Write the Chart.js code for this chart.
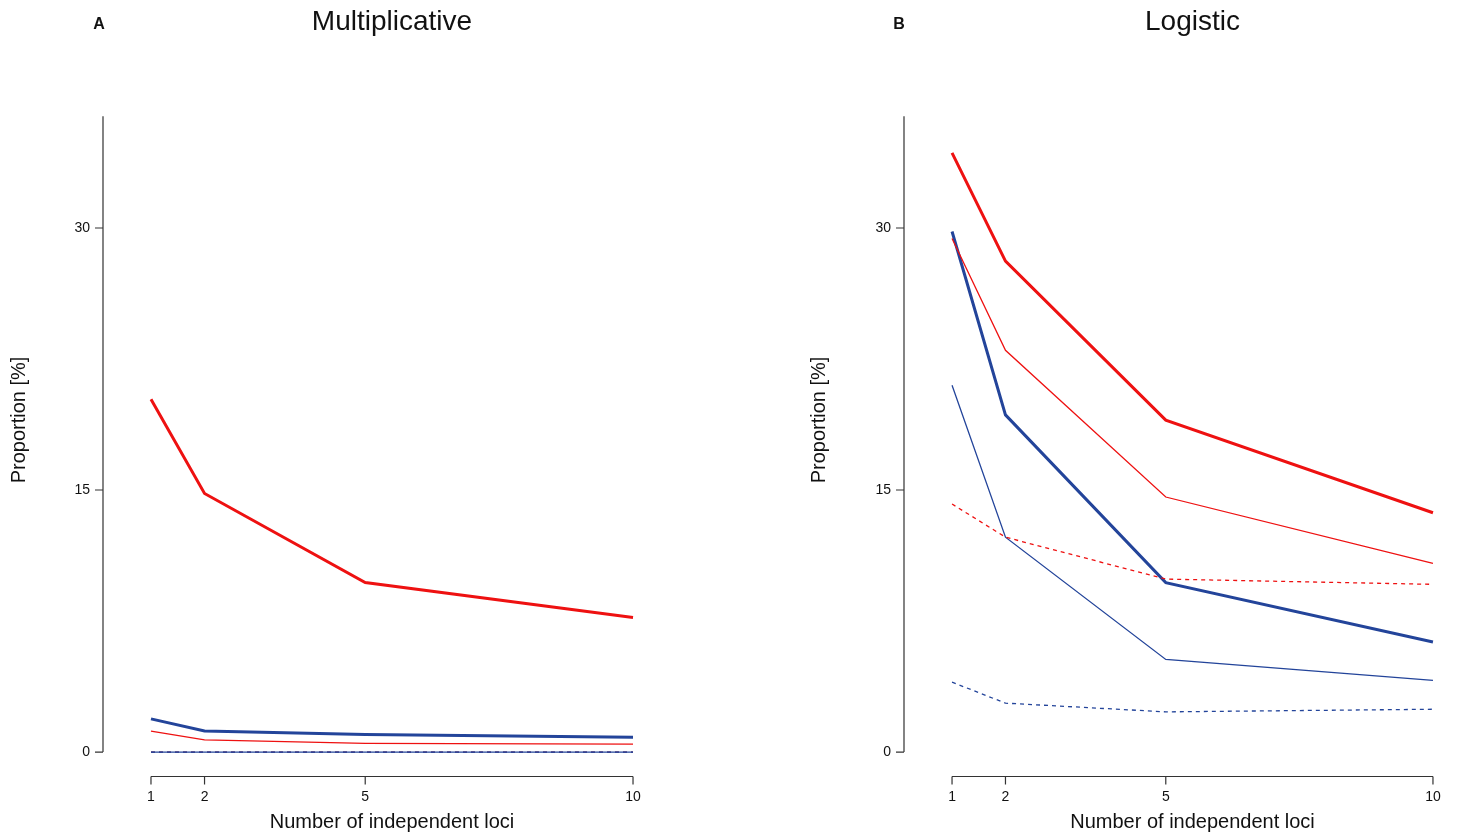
<!DOCTYPE html>
<html>
<head>
<meta charset="utf-8">
<script src="https://cdn.jsdelivr.net/npm/chart.js@4/dist/chart.umd.min.js"></script>
<style>
  body { margin:0; background:#fff; }
  .panel { position:absolute; top:0; width:729px; height:832px; }
</style>
</head>
<body>
<div class="panel" style="left:0"><canvas id="chartA" width="729" height="832"></canvas></div>
<div class="panel" style="left:729px"><canvas id="chartB" width="729" height="832"></canvas></div>
<script>
const loci = [1, 2, 5, 10];
const yTicks = [0, 15, 30];

// Multiplicative panel
const multRedThick  = [20.2, 14.8, 9.7, 7.7];
const multRedThin   = [1.2, 0.7, 0.5, 0.45];
const multRedDash   = [0, 0, 0, 0];
const multBlueThick = [1.9, 1.2, 1.0, 0.85];
const multBlueThin  = [0, 0, 0, 0];
const multBlueDash  = [0, 0, 0, 0];

// Logistic panel
const logRedThick  = [34.3, 28.1, 19.0, 13.7];
const logRedThin   = [29.4, 23.0, 14.6, 10.8];
const logRedDash   = [14.2, 12.3, 9.9, 9.6];
const logBlueThick = [29.8, 19.3, 9.7, 6.3];
const logBlueThin  = [21.0, 12.3, 5.3, 4.1];
const logBlueDash  = [4.0, 2.8, 2.3, 2.45];

const RED = '#ee1111', BLUE = '#23449a';
const FONT = '"Liberation Sans", Arial, Helvetica, sans-serif';

function series(vals, color, width, dash){
  return { data: vals.map((v,i)=>({x:loci[i], y:v})), borderColor: color, borderWidth: width,
    borderDash: dash ? [4,4] : [], pointRadius: 0, fill: false, tension: 0 };
}

// draws R-style offset axes and labels using the chart's own scales
const rAxes = {
  id: 'rAxes',
  afterDatasetsDraw(chart, args, o){
    const {ctx, scales:{x, y}} = chart;
    ctx.save();
    ctx.strokeStyle = '#333'; ctx.fillStyle = '#111'; ctx.lineWidth = 1.2;
    // y axis
    const ax = o.yAxisX;
    ctx.beginPath();
    ctx.moveTo(ax, y.getPixelForValue(0)); ctx.lineTo(ax, y.top);
    yTicks.forEach(t=>{ const py = y.getPixelForValue(t); ctx.moveTo(ax, py); ctx.lineTo(ax-8, py); });
    ctx.stroke();
    ctx.font = '14px ' + FONT; ctx.textAlign = 'right'; ctx.textBaseline = 'middle';
    yTicks.forEach(t=> ctx.fillText(String(t), ax-13, y.getPixelForValue(t)));
    // x axis
    const ay = y.bottom;
    ctx.beginPath();
    ctx.moveTo(x.getPixelForValue(loci[0]), ay); ctx.lineTo(x.getPixelForValue(loci[loci.length-1]), ay);
    loci.forEach(t=>{ const px = x.getPixelForValue(t); ctx.moveTo(px, ay); ctx.lineTo(px, ay+8); });
    ctx.stroke();
    ctx.textAlign = 'center';
    loci.forEach(t=> ctx.fillText(String(t), x.getPixelForValue(t), ay+21));
    // titles
    const cx = (x.getPixelForValue(1) + x.getPixelForValue(10)) / 2;
    ctx.font = '20px ' + FONT;
    ctx.fillText('Number of independent loci', cx, 822);
    ctx.save();
    ctx.translate(o.yTitleX, 420); ctx.rotate(-Math.PI/2);
    ctx.fillText('Proportion [%]', 0, 0);
    ctx.restore();
    ctx.font = '28px ' + FONT;
    ctx.fillText(o.title, cx, 22);
    ctx.font = 'bold 16px ' + FONT;
    ctx.fillText(o.letter, o.letterX, 25);
    ctx.restore();
  }
};

function makeChart(id, sets, pad, opts){
  new Chart(document.getElementById(id), {
    type: 'line',
    data: { datasets: sets },
    options: {
      responsive: false, animation: false,
      layout: { padding: pad },
      plugins: { legend: { display: false }, tooltip: { enabled: false }, rAxes: opts },
      scales: {
        x: { type: 'linear', min: 0.64, max: 10.36, display: false },
        y: { type: 'linear', min: -1.4, max: 36.4, display: false }
      }
    },
    plugins: [rAxes]
  });
}

makeChart('chartA', [
  series(multBlueThin, BLUE, 1.3, false),
  series(multBlueDash, BLUE, 1.3, true),
  series(multRedDash, RED, 1.3, true),
  series(multRedThin, RED, 1.3, false),
  series(multBlueThick, BLUE, 3, false),
  series(multRedThick, RED, 3, false)
], { left: 131.7, right: 76.7, top: 116.2, bottom: 55.5 },
   { yAxisX: 103, yTitleX: 19, title: 'Multiplicative', letter: 'A', letterX: 99 });

makeChart('chartB', [
  series(logBlueDash, BLUE, 1.3, true),
  series(logRedDash, RED, 1.3, true),
  series(logBlueThin, BLUE, 1.3, false),
  series(logRedThin, RED, 1.3, false),
  series(logBlueThick, BLUE, 3, false),
  series(logRedThick, RED, 3, false)
], { left: 203.8, right: 5.8, top: 116.2, bottom: 55.5 },
   { yAxisX: 175, yTitleX: 90, title: 'Logistic', letter: 'B', letterX: 170 });
</script>
</body>
</html>
